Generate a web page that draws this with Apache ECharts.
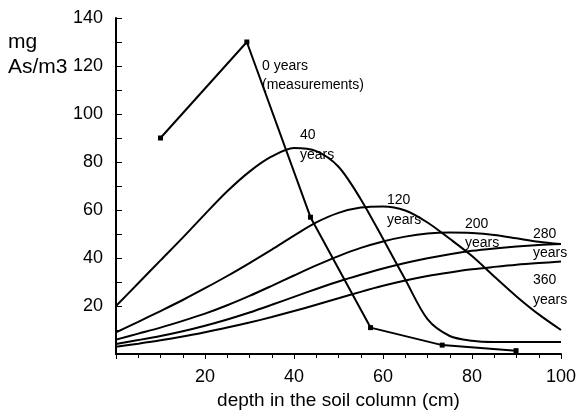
<!DOCTYPE html>
<html>
<head>
<meta charset="utf-8">
<script src="https://cdn.jsdelivr.net/npm/echarts@6/dist/echarts.min.js"></script>
<style>
html,body{margin:0;padding:0;background:#fff;}
#chart{width:580px;height:413px;}
</style>
</head>
<body>
<div id="chart"></div>
<script>
// ---- data ----
var depthCurve = [0,5,10,15,20,25,30,35,40,45,50,55,60,65,70,75,80,85,90,95,100];
var years40  = [20,29.5,39,48.5,58.3,67.8,76,82.3,85.8,84.5,78,64.5,48,31,14.5,7.5,5.5,5,5,5,5];
var years120 = [9,13.4,17.9,22.5,27.4,32.5,37.9,43.5,49.3,54.8,58.8,61,61.5,59.8,54.8,48,40.8,32.3,24,16.5,10];
var years200 = [6,8.5,11,13.8,16.8,20.3,24.2,28.4,32.7,36.9,40.8,44.2,46.9,48.9,50.2,50.6,50.4,49.6,48.2,46.8,45.8];
var years280 = [4.2,5.8,7.5,9.5,11.8,14.4,17.3,20.5,23.8,27.1,30.2,33,35.6,37.9,39.9,41.6,43,44,44.8,45.4,45.8];
var years360 = [3,4.3,5.7,7.3,9.1,11,13.1,15.4,17.9,20.5,23.2,25.9,28.4,30.6,32.5,34,35.3,36.3,37.2,37.9,38.5];
var depthMeasured = [10,29.4,43.7,57.2,73.3,89.9];
var valuesMeasured = [90,130,57,11,3.7,1.4];
var xTicks = [20,40,60,80,100];
var yTicks = [20,40,60,80,100,120,140];

function pairs(xs, ys){ return xs.map(function(x,i){ return [x, ys[i]]; }); }

var FONT = "'Liberation Sans', Arial, Helvetica, sans-serif";
var chart = echarts.init(document.getElementById('chart'), null, {renderer:'canvas'});

function curve(name, vals){
  return {
    name: name, type: 'line', data: pairs(depthCurve, vals),
    smooth: 0.3, showSymbol: false, symbol: 'none',
    lineStyle: {color: '#000', width: 2}, z: 3, animation: false
  };
}

var option = {
  animation: false,
  backgroundColor: '#fff',
  grid: {left: 116, right: 19, top: 18, bottom: 59, containLabel: false, outerBoundsMode: 'none'},
  xAxis: {
    type: 'value', min: 0, max: 100, interval: 20,
    name: 'depth in the soil column (cm)', nameLocation: 'middle', nameGap: 37,
    nameTextStyle: {fontFamily: FONT, fontSize: 19, color: '#000'},
    axisLine: {lineStyle: {color: '#000', width: 2}},
    axisTick: {show: true, inside: false, length: 5, lineStyle: {color: '#000', width: 1}},
    minorTick: {show: true, splitNumber: 4, length: 4, lineStyle: {color: '#000', width: 1}},
    axisLabel: {fontFamily: FONT, fontSize: 18, color: '#000', margin: 14,
      formatter: function(v){ return xTicks.indexOf(v) >= 0 ? String(v) : ''; }},
    splitLine: {show: false}
  },
  yAxis: {
    type: 'value', min: 0, max: 140, interval: 20,
    axisLine: {show: true, lineStyle: {color: '#000', width: 2}},
    axisTick: {show: true, inside: true, length: 6, lineStyle: {color: '#000', width: 1}},
    minorTick: {show: true, splitNumber: 2, length: 6, lineStyle: {color: '#000', width: 1}},
    axisLabel: {fontFamily: FONT, fontSize: 18, color: '#000', margin: 13,
      formatter: function(v){ return yTicks.indexOf(v) >= 0 ? String(v) : ''; }},
    splitLine: {show: false}
  },
  series: [
    {
      name: '0 years (measurements)', type: 'line', data: pairs(depthMeasured, valuesMeasured),
      symbol: 'rect', symbolSize: 5, showSymbol: true,
      itemStyle: {color: '#000'}, lineStyle: {color: '#000', width: 2}, z: 4
    },
    curve('40 years', years40),
    curve('120 years', years120),
    curve('200 years', years200),
    curve('280 years', years280),
    curve('360 years', years360)
  ],
  graphic: [
    {type:'text', left: 8, top: 30, style:{text:'mg\nAs/m3', font: '21px ' + FONT, fill:'#000', lineHeight: 25}},
    {type:'text', left: 262, top: 57, style:{text:'0 years\n(measurements)', font: '14px ' + FONT, fill:'#000', lineHeight: 19}},
    {type:'text', left: 300, top: 125, style:{text:'40\nyears', font: '14px ' + FONT, fill:'#000', lineHeight: 20}},
    {type:'text', left: 387, top: 190, style:{text:'120\nyears', font: '14px ' + FONT, fill:'#000', lineHeight: 20}},
    {type:'text', left: 465, top: 215, style:{text:'200\nyears', font: '14px ' + FONT, fill:'#000', lineHeight: 19}},
    {type:'text', left: 533, top: 225, style:{text:'280\nyears', font: '14px ' + FONT, fill:'#000', lineHeight: 19}},
    {type:'text', left: 533, top: 270, style:{text:'360\nyears', font: '14px ' + FONT, fill:'#000', lineHeight: 20}}
  ]
};
chart.setOption(option);
</script>
</body>
</html>
